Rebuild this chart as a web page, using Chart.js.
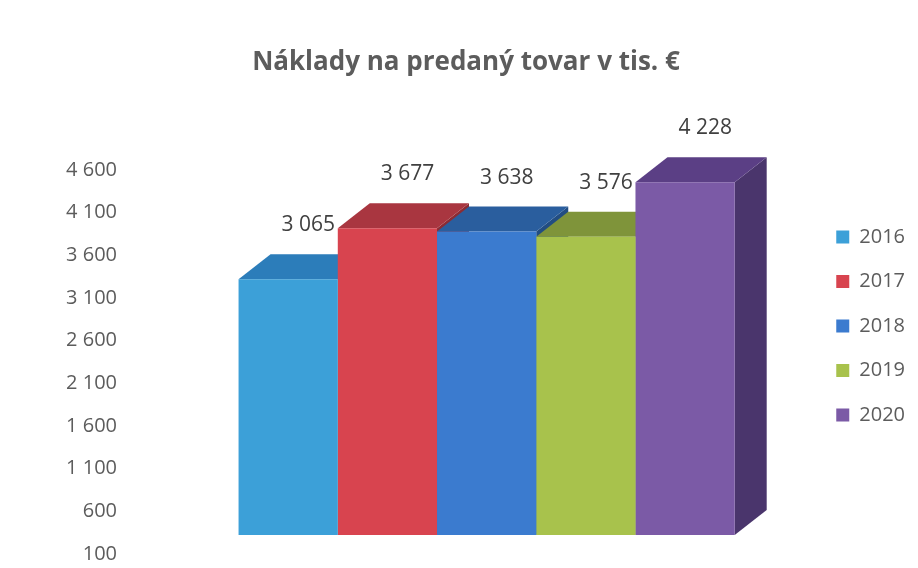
<!DOCTYPE html>
<html>
<head>
<meta charset="utf-8">
<script src="https://cdn.jsdelivr.net/npm/chart.js@4.4.1/dist/chart.umd.min.js"></script>
<style>
  html, body { margin: 0; padding: 0; background: #ffffff; }
  #wrap { width: 918px; height: 568px; }
</style>
</head>
<body>
<div id="wrap"><canvas id="c" width="918" height="568"></canvas></div>
<script>
// ---- data ----
const categories = [''];
const seriesNames = ['2016', '2017', '2018', '2019', '2020'];
const seriesValues = [3065, 3677, 3638, 3576, 4228];
const yTicks = [100, 600, 1100, 1600, 2100, 2600, 3100, 3600, 4100, 4600];

// ---- styles ----
const frontColors = ['#3ca0d8', '#d8444f', '#3b7bcf', '#a8c24c', '#7b5aa6'];
const topColors   = ['#2c7dba', '#a93640', '#2a5e9e', '#7f943a', '#5b3f85'];
const sideColors  = ['#23669a', '#8c2c34', '#224d82', '#68792f', '#4a356c'];
const textColor = '#5c5c5c';
const FONT = '"Open Sans", Lato, "DejaVu Sans", sans-serif';

function fmt(v) {
  return String(v).replace(/\B(?=(\d{3})+(?!\d))/g, ' ');
}

const DEPTH_X = 32, DEPTH_Y = 25;

const bar3d = {
  id: 'bar3d',
  beforeDatasetsDraw(chart) {
    const ctx = chart.ctx;
    ctx.save();
    chart.data.datasets.forEach((ds, i) => {
      const meta = chart.getDatasetMeta(i);
      if (meta.hidden) return;
      meta.data.forEach(el => {
        const p = el.getProps(['x', 'y', 'base', 'width'], true);
        const l = p.x - p.width / 2, r = p.x + p.width / 2;
        // side face
        ctx.fillStyle = sideColors[i];
        ctx.beginPath();
        ctx.moveTo(r, p.y);
        ctx.lineTo(r + DEPTH_X, p.y - DEPTH_Y);
        ctx.lineTo(r + DEPTH_X, p.base - DEPTH_Y);
        ctx.lineTo(r, p.base);
        ctx.closePath();
        ctx.fill();
        // top face
        ctx.fillStyle = topColors[i];
        ctx.beginPath();
        ctx.moveTo(l, p.y);
        ctx.lineTo(l + DEPTH_X, p.y - DEPTH_Y);
        ctx.lineTo(r + DEPTH_X, p.y - DEPTH_Y);
        ctx.lineTo(r, p.y);
        ctx.closePath();
        ctx.fill();
      });
    });
    ctx.restore();
  },
  afterDatasetsDraw(chart) {
    const ctx = chart.ctx;
    ctx.save();
    ctx.font = '21px ' + FONT;
    ctx.fillStyle = '#404040';
    ctx.textAlign = 'center';
    ctx.textBaseline = 'middle';
    chart.data.datasets.forEach((ds, i) => {
      const meta = chart.getDatasetMeta(i);
      meta.data.forEach((el, j) => {
        const p = el.getProps(['x', 'y'], true);
        ctx.fillText(fmt(ds.data[j]), p.x + 0.63 * DEPTH_X, p.y - 54);
      });
    });
    ctx.restore();
  }
};

const datasets = seriesNames.map((name, i) => ({
  label: name,
  data: [seriesValues[i]],
  backgroundColor: frontColors[i],
  borderWidth: 0,
  yAxisID: 'yBars',
  categoryPercentage: 0.763,
  barPercentage: 1.0
}));

new Chart(document.getElementById('c'), {
  type: 'bar',
  data: { labels: categories, datasets },
  options: {
    responsive: false,
    animation: false,
    layout: { padding: { left: 17, right: 3, top: 0, bottom: 14 } },
    plugins: {
      title: {
        display: true,
        text: 'Náklady na predaný tovar v tis. €',
        color: textColor,
        font: { family: FONT, size: 26, weight: 'bold' },
        padding: { top: 47.4, bottom: 91.4 }
      },
      legend: {
        position: 'right',
        align: 'start',
        fullSize: false,
        title: { display: true, text: '', padding: { top: 18.1, bottom: 0 } },
        labels: {
          boxWidth: 13,
          boxHeight: 13,
          padding: 24.5,
          color: textColor,
          font: { family: FONT, size: 20 }
        }
      },
      tooltip: { enabled: false }
    },
    scales: {
      x: { display: false, offset: true },
      y: {
        position: 'left',
        min: 100,
        max: 4600,
        afterBuildTicks(scale) { scale.ticks = yTicks.map(v => ({ value: v })); },
        afterFit(scale) {
          scale.width = 144.5;
          scale.paddingTop = 0;
          scale.paddingBottom = 0;
        },
        grid: { display: false, drawTicks: false },
        border: { display: false },
        ticks: {
          color: textColor,
          font: { family: FONT, size: 20 },
          padding: 44.5,
          callback: v => fmt(v)
        }
      },
      yBars: {
        display: false,
        min: -228,
        max: 4376
      }
    }
  },
  plugins: [bar3d]
});
</script>
</body>
</html>
